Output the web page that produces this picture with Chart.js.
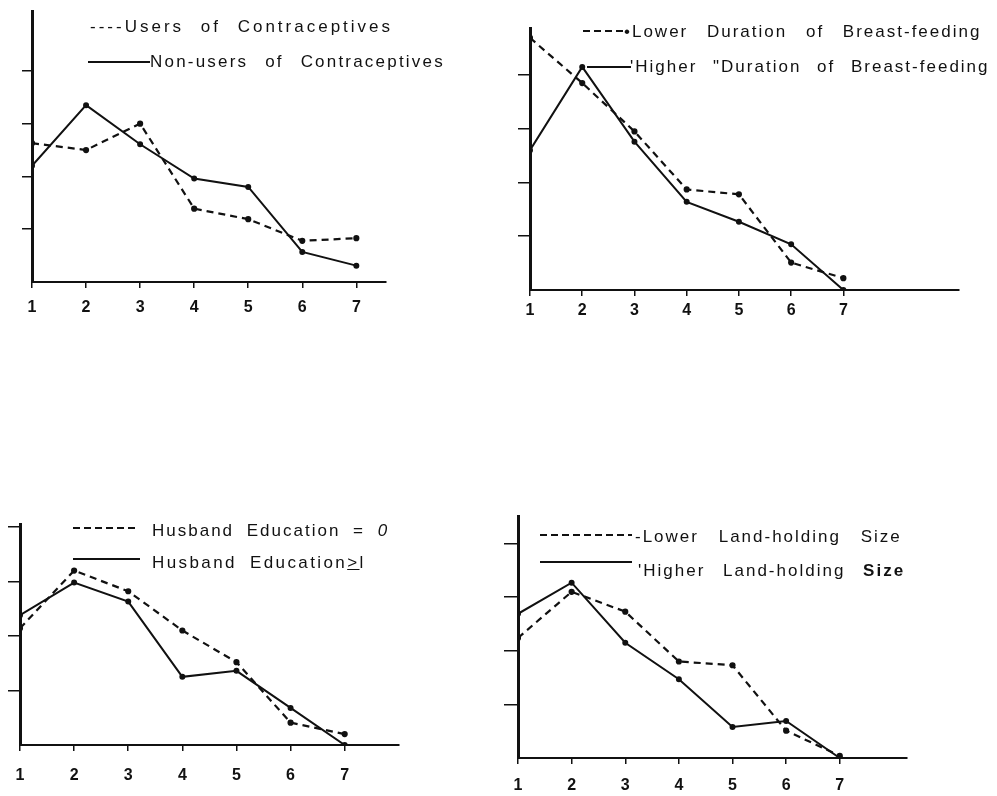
<!DOCTYPE html>
<html>
<head>
<meta charset="utf-8">
<script src="https://cdn.jsdelivr.net/npm/chart.js@4.4.1/dist/chart.umd.min.js"></script>
<style>
    body { margin: 0; background: #fff; width: 997px; height: 796px; position: relative; overflow: hidden;
           font-family: "Liberation Sans", Arial, sans-serif; }
    .box { position: absolute; }
    .lg { position: absolute; font-size: 17px; line-height: 20px; color: #111; white-space: nowrap;
          letter-spacing: 2px; word-spacing: 6px; }
    .solid { position: absolute; height: 2px; background: #111; }
    .dash { position: absolute; height: 2px;
            background: repeating-linear-gradient(90deg, #111 0 7px, transparent 7px 11px); }
</style>
</head>
<body>

<div class="box" style="left:0;top:5px"><canvas id="c1" width="392" height="317"></canvas></div>
<div class="box" style="left:470px;top:22px"><canvas id="c2" width="495" height="308"></canvas></div>
<div class="box" style="left:0;top:518px"><canvas id="c3" width="405" height="267"></canvas></div>
<div class="box" style="left:490px;top:510px"><canvas id="c4" width="423" height="286"></canvas></div>

<!-- legends -->
<div class="lg" style="left:90px;top:17px;letter-spacing:3px;word-spacing:9px">----Users of Contraceptives</div>
<div class="solid" style="left:88px;top:61px;width:62px"></div>
<div class="lg" style="left:150px;top:52px;letter-spacing:2.2px;word-spacing:10px">Non-users of Contraceptives</div>

<div class="dash" style="left:583px;top:30px;width:44px"></div>
<div class="lg" style="left:624px;top:22px;word-spacing:12px">•Lower Duration of Breast-feeding</div>
<div class="solid" style="left:587px;top:66px;width:44px"></div>
<div class="lg" style="left:630px;top:57px;word-spacing:9px">'Higher "Duration of Breast-feeding</div>

<div class="dash" style="left:73px;top:527px;width:64px"></div>
<div class="lg" style="left:152px;top:521px">Husband Education = <i>0</i></div>
<div class="solid" style="left:73px;top:558px;width:67px"></div>
<div class="lg" style="left:152px;top:553px;letter-spacing:2.4px">Husband Education<u>&gt;</u>l</div>

<div class="dash" style="left:540px;top:534px;width:92px"></div>
<div class="lg" style="left:635px;top:527px;word-spacing:13px">-Lower Land-holding Size</div>
<div class="solid" style="left:540px;top:561px;width:92px"></div>
<div class="lg" style="left:638px;top:561px;word-spacing:11px">'Higher Land-holding <b>Size</b></div>

<script>
// x categories and y tick marks (no printed y labels in the original)
const categories = [1, 2, 3, 4, 5, 6, 7];
const yTicks = [1, 2, 3, 4];

// top-left
const usersContraceptives = [2.63, 2.5, 3.0, 1.39, 1.19, 0.78, 0.83];
const nonUsersContraceptives = [2.2, 3.35, 2.61, 1.96, 1.8, 0.57, 0.31];
// top-right
const lowerBreastfeeding = [4.69, 3.85, 2.95, 1.87, 1.78, 0.51, 0.22];
const higherBreastfeeding = [2.6, 4.15, 2.76, 1.64, 1.27, 0.85, 0];
// bottom-left
const husbandEduZero = [2.14, 3.2, 2.82, 2.1, 1.52, 0.41, 0.2];
const husbandEduOne = [2.38, 2.98, 2.63, 1.25, 1.36, 0.68, 0];
// bottom-right
const lowerLand = [2.24, 3.1, 2.73, 1.8, 1.73, 0.51, 0.04];
const higherLand = [2.69, 3.27, 2.15, 1.47, 0.58, 0.69, 0];

Chart.defaults.font.family = '"Liberation Sans", Arial, sans-serif';
Chart.defaults.color = '#111';

function toPoints(values) {
    return categories.map(function(c, i) { return { x: c, y: values[i] }; });
}

function makeChart(id, dashedValues, solidValues, opt) {
    const ctx = document.getElementById(id).getContext('2d');
    new Chart(ctx, {
        type: 'line',
        data: {
            datasets: [
                {
                    data: toPoints(dashedValues),
                    borderColor: '#111',
                    backgroundColor: '#111',
                    borderWidth: 2.2,
                    borderDash: [7, 5],
                    pointRadius: 2,
                    tension: 0
                },
                {
                    data: toPoints(solidValues),
                    borderColor: '#111',
                    backgroundColor: '#111',
                    borderWidth: 2,
                    pointRadius: 2,
                    tension: 0
                }
            ]
        },
        options: {
            responsive: false,
            animation: false,
            layout: { padding: 0 },
            plugins: { legend: { display: false }, tooltip: { enabled: false } },
            scales: {
                x: {
                    type: 'linear',
                    min: 1,
                    max: opt.xmax,
                    afterBuildTicks: function(s) { s.ticks = categories.map(v => ({ value: v })); },
                    afterFit: function(s) { s.height = opt.xh; },
                    grid: { drawOnChartArea: false, drawTicks: true, tickLength: 6, color: '#111', lineWidth: 1.5 },
                    border: { color: '#111', width: 2 },
                    ticks: { padding: opt.xpad, font: { size: 16, weight: 'bold' }, color: '#111' }
                },
                y: {
                    min: 0,
                    max: opt.ymax,
                    afterBuildTicks: function(s) { s.ticks = yTicks.map(v => ({ value: v })); },
                    afterFit: function(s) { s.width = opt.yw; },
                    grid: { drawOnChartArea: false, drawTicks: true, tickLength: opt.ytl, color: '#111', lineWidth: 1.5 },
                    border: { color: '#111', width: 3 },
                    ticks: { display: false }
                }
            }
        }
    });
}

makeChart('c1', usersContraceptives, nonUsersContraceptives,
    { xmax: 7.545, ymax: 5.13, yw: 32, xh: 40, xpad: 10, ytl: 10 });
makeChart('c2', lowerBreastfeeding, higherBreastfeeding,
    { xmax: 9.21, ymax: 4.87, yw: 60, xh: 40, xpad: 5, ytl: 12 });
makeChart('c3', husbandEduZero, husbandEduOne,
    { xmax: 8.0, ymax: 4.05, yw: 20, xh: 40, xpad: 15, ytl: 12 });
makeChart('c4', lowerLand, higherLand,
    { xmax: 8.25, ymax: 4.51, yw: 28, xh: 38, xpad: 12, ytl: 14 });
</script>
</body>
</html>
